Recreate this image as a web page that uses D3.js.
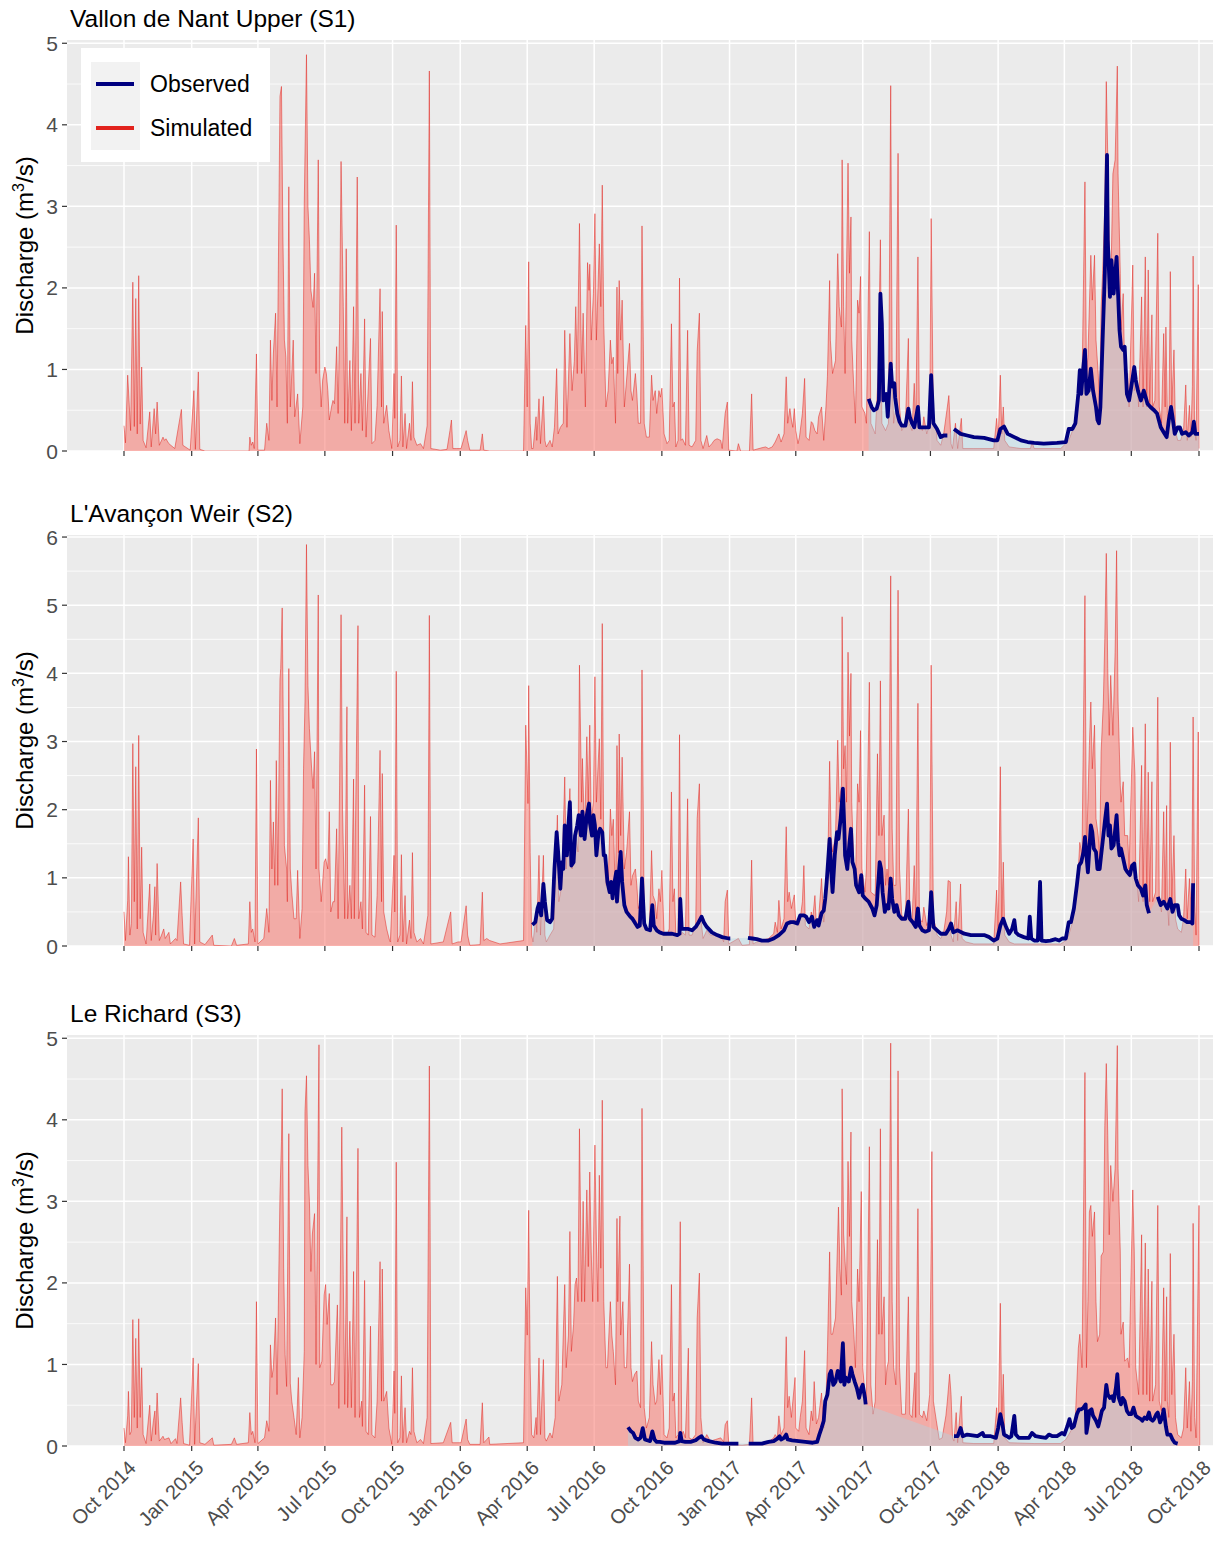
<!DOCTYPE html>
<html><head><meta charset="utf-8">
<script src="https://cdn.jsdelivr.net/npm/d3@7"></script>
<style>
body{margin:0;background:#fff}
svg{display:block}
text{font-family:"Liberation Sans",Arial,Helvetica,sans-serif}
</style>
</head><body>
<svg id="chart" width="1215" height="1543"></svg>
<script>
// Daily discharge (m3/s), stored as [days since 2014-10-01, value]
const stationTitles = ["Vallon de Nant Upper (S1)", "L'Avançon Weir (S2)", "Le Richard (S3)"];
const yTickValues = [[0,1,2,3,4,5],[0,1,2,3,4,5,6],[0,1,2,3,4,5]];
const yLimits = [5.04, 6.03, 5.04];
const legendLabels = ["Observed", "Simulated"];
const xTickFormat = "%b %Y";

const simS1 = [[0,0.31],[2,0.1],[5,0.93],[9,0.25],[12,2.07],[14,0.3],[16,1.87],[18,0.21],[20,2.15],[22,0.33],[24,1.03],[26,0.13],[30,0.04],[35,0.48],[37,0.05],[41,0.52],[43,0.21],[45,0.6],[48,0.07],[53,0.17],[55,0.13],[57,0.15],[61,0.09],[69,0.03],[78,0.51],[80,0.07],[90,0.01],[95,0.74],[97,0.02],[101,0.97],[103,0.02],[110,0],[170,0],[171,0.17],[173,0.07],[175,0.11],[177,0.03],[180,1.19],[182,0.01],[191,0.01],[194,0.34],[197,0.13],[199,1.36],[201,0.62],[203,1.19],[206,1.69],[208,0.54],[212,4.35],[214,4.47],[216,2.6],[218,1.36],[220,1.15],[222,0.34],[224,3.24],[226,0.54],[230,1.36],[232,0.42],[236,0.7],[239,0.09],[243,0.54],[245,3.04],[248,4.86],[250,3.0],[252,2.59],[254,1.97],[257,1.76],[259,2.18],[261,0.95],[264,3.57],[266,0.95],[268,0.54],[270,0.87],[273,1.03],[275,0.95],[277,0.74],[279,0.38],[282,0.54],[284,0.62],[286,0.58],[289,1.28],[291,0.46],[293,1.56],[295,3.55],[298,1.77],[300,0.34],[302,2.48],[304,0.34],[307,1.11],[309,0.25],[312,1.77],[314,0.34],[317,3.36],[319,0.34],[322,0.95],[324,0.25],[327,1.62],[329,0.17],[335,1.38],[337,0.09],[341,0.13],[344,0.56],[348,1.99],[350,0.54],[351,1.71],[353,0.34],[357,0.56],[360,0.25],[364,0.03],
[367,0.95],[368,0.4],[370,2.77],[372,0.05],[375,0.13],[377,0.92],[379,0.05],[382,0.46],[384,0.03],[388,0.34],[390,0.13],[392,0.85],[394,0.17],[398,0.07],[403,0.09],[407,0.03],[412,0.31],[415,4.66],[417,0.03],[430,0.01],[439,0.02],[443,0.25],[445,0.38],[447,0.03],[452,0.03],[458,0.03],[465,0.25],[467,0.13],[470,0.01],[484,0.01],[487,0.21],[489,0.01],[497,0],[543,0],[546,1.54],[548,0.54],[550,2.32],[552,0.34],[554,0.03],[556,0.03],[560,0.42],[561,0.13],[564,0.64],[566,0.09],[570,0.67],[572,0.13],[574,0.05],[579,0.13],[582,0.05],[585,0.29],[588,1.01],[590,0.21],[593,0.29],[597,0.34],[599,1.48],[602,0.29],[606,1.44],[609,0.74],[612,1.1],[614,1.77],[616,0.95],[619,2.79],[622,0.95],[624,1.69],[627,0.54],[630,2.31],[632,1.97],[633,2.29],[635,1.36],[638,1.93],[640,2.91],[642,1.36],[646,2.54],[648,1.77],[650,3.26],[652,1.56],[655,0.54],[658,0.74],[661,1.36],[663,1.07],[665,1.15],[668,0.34],[670,2.01],[671,0.95],[673,2.09],[675,1.36],[677,1.85],[680,0.54],[683,0.87],[687,1.32],[689,0.74],[691,0.62],[695,0.95],[697,0.7],[699,0.34],[702,0.34],[704,2.76],[707,0.34],[710,0.17],[714,0.17],[717,0.93],[719,0.62],[722,0.74],[724,0.46],[727,0.74],[729,0.66],
[731,0.77],[734,0.21],[738,0.09],[741,0.13],[744,1.56],[746,0.54],[748,0.6],[750,0.05],[753,0.13],[755,2.12],[757,0.13],[759,0.15],[763,0.07],[766,1.48],[768,0.07],[772,0.05],[777,0.13],[779,1.22],[782,1.69],[784,0.13],[787,0.03],[792,0.19],[795,0.05],[799,0.09],[802,0.13],[806,0.15],[811,0.13],[813,0.03],[817,0.46],[820,0.6],[822,0.01],[833,0],[835,0.09],[838,0],[850,0],[853,0.7],[855,0.01],[863,0.03],[867,0.04],[872,0.05],[876,0.03],[881,0.05],[885,0.11],[890,0.21],[893,0.11],[897,0.21],[900,0.91],[902,0.34],[905,0.52],[907,0.38],[909,0.29],[911,0.52],[913,0.25],[916,0.09],[918,0.17],[922,0.46],[925,0.89],[927,0.17],[931,0.13],[934,0.36],[936,0.34],[939,0.25],[942,0.21],[944,0.42],[948,0.54],[951,0.13],[954,0.54],[956,0.91],[959,2.09],[960,1.36],[963,0.95],[967,1.11],[970,2.42],[972,1.77],[975,1.52],[976,3.57],[978,1.77],[980,0.95],[984,3.53],[986,2.18],[988,2.87],[989,1.36],[992,0.74],[994,0.34],[997,1.85],[999,1.69],[1001,2.14],[1003,0.54],[1007,0.46],[1009,0.34],[1013,2.69],[1015,0.34],[1021,0.21],[1025,0.95],[1028,2.59],[1030,0.34],[1035,0.25],[1039,0.34],[1042,4.48],[1044,0.95],[1046,0.34],[1049,0.54],[1052,3.65],[1054,0.54],[1057,0.25],[1062,0.34],[1066,1.38],[1067,0.34],[1071,0.25],[1074,0.83],[1076,0.29],[1079,2.38],[1081,0.34],[1085,0.25],[1087,0.42],[1091,0.21],[1095,0.34],[1097,2.85],[1100,0.34],[1104,0.25],
[1105,0.13],[1110,0.07],[1114,0.21],[1119,0.54],[1121,0.68],[1124,0.09],[1126,0.03],[1130,0.34],[1133,0.03],[1138,0.4],[1140,0.03],[1155,0.03],[1182,0.03],[1186,0.4],[1188,0.13],[1191,0.93],[1193,0.21],[1195,0.54],[1197,0.13],[1203,0.05],[1219,0.03],[1232,0.03],[1234,0.11],[1237,0.03],[1273,0.03],[1280,0.09],[1284,0.13],[1289,0.25],[1293,0.34],[1297,0.74],[1300,0.95],[1302,0.79],[1306,3.3],[1308,0.95],[1310,1.15],[1314,2.4],[1316,1.85],[1319,2.4],[1321,1.36],[1324,0.95],[1326,0.54],[1328,1.77],[1330,2.18],[1333,3.0],[1335,4.53],[1337,3.61],[1339,2.59],[1341,1.97],[1344,3.4],[1347,3.57],[1350,4.72],[1351,3.4],[1354,2.18],[1355,1.48],[1358,1.93],[1360,0.95],[1364,0.95],[1366,0.54],[1371,2.28],[1373,0.74],[1376,0.95],[1379,0.54],[1383,1.89],[1385,0.54],[1388,2.38],[1390,0.54],[1392,2.22],[1394,0.54],[1397,1.67],[1398,0.54],[1401,0.62],[1405,2.67],[1407,0.54],[1410,0.34],[1413,1.44],[1415,0.54],[1416,1.52],[1418,0.46],[1420,0.21],[1422,2.2],[1424,0.54],[1427,1.24],[1429,0.25],[1432,0.13],[1436,0.13],[1440,0.25],[1443,0.81],[1445,0.13],[1448,0.56],[1450,0.17],[1452,0.79],[1453,2.39],[1455,0.25],[1457,0.13],[1460,2.04],[1461,0.03]];

const obsS1 = [[1012,0.64],[1016,0.54],[1019,0.5],[1023,0.52],[1026,0.62],[1028,1.93],[1030,1.56],[1032,0.62],[1036,0.7],[1038,0.42],[1042,1.07],[1044,0.79],[1047,0.83],[1048,0.66],[1051,0.46],[1054,0.36],[1057,0.31],[1062,0.31],[1066,0.52],[1068,0.42],[1071,0.34],[1074,0.29],[1079,0.54],[1081,0.29],[1089,0.29],[1094,0.29],[1097,0.93],[1100,0.34],[1105,0.27],[1110,0.17],[1114,0.19],[1119,0.19],[1122,null],[1128,0.27],[1137,0.21],[1146,0.19],[1155,0.17],[1169,0.16],[1182,0.13],[1187,0.13],[1191,0.27],[1196,0.3],[1201,0.21],[1210,0.17],[1219,0.13],[1228,0.11],[1237,0.1],[1250,0.09],[1268,0.1],[1280,0.11],[1284,0.27],[1289,0.27],[1293,0.34],[1297,0.7],[1299,0.99],[1301,0.7],[1303,0.95],[1306,1.24],[1308,0.7],[1311,0.74],[1314,1.01],[1317,0.74],[1321,0.54],[1323,0.38],[1325,0.34],[1327,0.54],[1330,1.36],[1333,2.18],[1336,3.63],[1337,2.59],[1340,1.89],[1342,2.34],[1345,1.93],[1349,2.38],[1351,1.93],[1353,1.48],[1355,1.28],[1358,1.24],[1360,1.28],[1363,0.7],[1366,0.62],[1369,0.79],[1373,1.03],[1375,0.87],[1378,0.74],[1382,0.62],[1386,0.74],[1391,0.58],[1395,0.54],[1400,0.5],[1404,0.46],[1409,0.29],[1413,0.23],[1417,0.17],[1420,0.38],[1423,0.54],[1425,0.42],[1428,0.21],[1432,0.29],[1435,0.29],[1438,0.21],[1443,0.23],[1447,0.19],[1452,0.23],[1454,0.36],[1456,0.21],[1461,0.21]];

const simS2 = [[0,0.5],[2,0.08],[5,0.67],[6,1.31],[8,0.16],[10,0.33],[12,2.97],[14,0.65],[16,2.63],[18,0.25],[20,3.09],[22,0.4],[24,1.45],[26,0.2],[30,0.03],[35,0.91],[37,0.08],[40,0.45],[42,0.87],[43,0.16],[45,1.21],[48,0.08],[51,0.16],[54,0.25],[56,0.11],[61,0.2],[63,0.03],[70,0.11],[72,0.08],[77,0.94],[79,0.45],[81,0.03],[89,0.01],[94,1.57],[96,0.03],[101,1.88],[103,0.06],[110,0.02],[120,0.16],[122,0.01],[146,0],[150,0.11],[153,0.01],[169,0.03],[171,0.65],[173,0.2],[175,0.25],[178,0.06],[180,2.89],[182,0.03],[190,0.11],[194,0.55],[197,0.2],[199,2.43],[201,1.13],[203,1.82],[205,0.89],[207,2.72],[209,0.89],[212,3.92],[213,4.07],[215,4.96],[217,2.6],[218,1.47],[221,1.13],[222,0.65],[224,4.07],[226,1.13],[228,0.79],[231,0.4],[234,0.4],[236,1.11],[239,0.11],[242,0.55],[244,2.6],[246,3.58],[248,5.89],[250,3.82],[252,3.19],[255,2.6],[257,2.31],[259,2.85],[261,1.13],[264,5.15],[265,1.13],[268,0.65],[272,1.23],[274,1.28],[277,1.13],[279,1.97],[281,0.5],[284,0.65],[286,0.65],[289,1.72],[291,0.4],[293,2.36],[295,4.86],[297,2.0],[300,0.4],[303,3.51],[304,0.4],[307,0.89],[309,0.4],[312,2.45],[313,0.4],[318,4.7],[319,0.4],[322,0.65],[324,0.25],[327,2.36],[329,0.2],[332,0.16],[335,1.9],[337,0.16],[341,0.13],[344,0.74],[348,2.87],[350,0.65],[351,2.53],[353,0.5],[357,0.25],[361,0.08],
[362,0.06],[367,1.33],[368,0.5],[370,4.03],[372,0.06],[375,0.16],[377,1.34],[379,0.06],[382,0.74],[384,0.03],[388,0.38],[390,0.11],[392,1.37],[394,0.2],[398,0.06],[403,0.11],[407,0.03],[413,0.45],[415,4.85],[417,0.03],[434,0.06],[444,0.5],[446,0.03],[454,0.06],[458,0.06],[465,0.59],[467,0.16],[470,0.01],[484,0.02],[487,0.79],[489,0.08],[493,0.11],[497,0.08],[511,0.03],[543,0.08],[546,3.24],[549,2.09],[550,3.82],[552,1.37],[554,0.16],[556,0.06],[560,0.45],[561,0.2],[564,1.33],[566,0.16],[570,1.33],[572,0.16],[574,0.06],[579,0.16],[584,0.25],[589,1.92],[591,0.65],[595,0.89],[599,2.48],[601,1.13],[603,1.62],[606,2.31],[609,1.13],[612,1.62],[614,1.62],[617,1.38],[619,4.12],[622,2.11],[623,2.75],[626,1.62],[629,3.07],[631,2.11],[633,3.24],[635,1.86],[638,2.11],[640,3.95],[642,2.11],[646,3.04],[648,1.86],[650,4.73],[652,1.37],[655,0.89],[658,0.89],[661,2.01],[663,1.62],[665,1.86],[668,0.65],[670,2.94],[672,1.37],[673,3.11],[675,1.62],[677,2.77],[680,1.13],[683,1.37],[687,1.97],[689,0.89],[691,1.03],[695,1.13],[697,0.89],[699,0.55],[702,0.65],[704,4.05],[707,0.4],[710,0.25],[714,0.25],[717,1.4],[719,0.74],[722,0.65],[724,0.4],[727,0.84],[729,0.65],
[731,1.11],[734,0.16],[738,0.16],[741,0.25],[744,2.26],[746,0.65],[748,0.84],[750,0.16],[753,0.16],[755,3.1],[757,0.16],[759,0.2],[763,0.16],[766,2.16],[768,0.16],[772,0.16],[777,0.3],[779,1.87],[782,2.38],[784,0.4],[787,0.11],[792,0.23],[797,0.16],[811,0.16],[815,0.06],[817,0.65],[820,0.82],[822,0.03],[835,0.11],[840,0.01],[850,0.02],[853,1.26],[855,0.03],[860,0.06],[867,0.08],[876,0.11],[883,0.18],[885,0.35],[888,0.2],[890,0.67],[893,0.25],[897,0.4],[900,1.75],[902,0.65],[904,0.79],[907,0.55],[909,0.65],[911,0.75],[913,0.35],[917,0.3],[919,0.4],[922,0.65],[924,1.18],[926,0.3],[931,0.25],[934,0.5],[936,0.4],[939,0.74],[941,0.3],[944,0.4],[948,0.99],[951,0.35],[954,0.65],[956,0.89],[959,2.71],[961,1.62],[963,1.38],[967,1.62],[970,3.02],[972,2.11],[975,2.36],[976,4.83],[978,2.6],[980,2.94],[982,2.11],[984,4.31],[986,3.08],[988,4.0],[989,2.11],[992,1.13],[994,0.89],[997,2.38],[999,2.11],[1001,3.16],[1003,1.13],[1007,0.79],[1009,1.13],[1013,3.87],[1015,0.79],[1021,0.74],[1024,2.82],[1026,1.62],[1028,3.89],[1030,1.62],[1033,1.92],[1035,0.89],[1037,1.13],[1039,0.89],[1042,5.43],[1044,1.72],[1046,0.89],[1049,0.89],[1052,5.22],[1054,1.13],[1057,0.45],[1062,0.4],[1066,2.01],[1068,0.5],[1071,0.35],[1074,1.18],[1076,0.4],[1079,3.56],[1081,0.4],[1085,0.35],[1087,0.57],[1091,0.3],[1095,0.4],[1097,4.12],[1100,0.4],[1104,0.25],
[1105,0.16],[1110,0.11],[1114,0.2],[1118,0.5],[1120,0.96],[1123,0.94],[1124,0.16],[1127,0.06],[1131,0.65],[1133,0.08],[1137,0.91],[1139,0.11],[1144,0.06],[1155,0.03],[1182,0.03],[1186,0.82],[1188,0.16],[1191,2.63],[1193,0.4],[1195,1.23],[1197,0.16],[1203,0.06],[1210,0.03],[1237,0.03],[1273,0.03],[1280,0.08],[1284,0.16],[1289,0.35],[1293,0.65],[1297,1.13],[1299,1.52],[1302,1.33],[1306,5.14],[1308,1.38],[1310,2.11],[1312,2.94],[1314,3.58],[1316,2.6],[1319,3.24],[1321,1.87],[1324,1.62],[1326,1.28],[1328,2.85],[1331,3.58],[1333,4.51],[1335,5.76],[1337,4.07],[1339,3.09],[1341,3.97],[1344,3.09],[1347,4.31],[1349,5.8],[1351,3.58],[1354,2.36],[1355,2.11],[1358,2.41],[1360,1.62],[1364,1.62],[1366,1.13],[1371,3.21],[1374,2.5],[1375,1.13],[1379,0.65],[1383,2.65],[1385,0.65],[1388,3.26],[1390,0.65],[1392,2.55],[1394,0.65],[1397,2.41],[1398,0.65],[1402,0.79],[1405,3.65],[1407,0.65],[1410,0.5],[1413,1.97],[1415,0.65],[1417,2.06],[1418,0.65],[1420,0.3],[1422,2.99],[1424,0.65],[1427,1.62],[1429,0.4],[1432,0.25],[1437,0.2],[1440,0.4],[1443,1.13],[1445,0.4],[1448,0.99],[1451,0.4],[1453,3.36],[1455,0.65],[1457,0.16],[1460,3.14],[1461,0.01]];

const obsS2 = [[555,0.31],[559,0.35],[562,0.55],[564,0.62],[567,0.45],[570,0.91],[572,0.65],[575,0.38],[579,0.35],[582,0.4],[585,1.13],[588,1.67],[590,1.38],[593,0.84],[595,1.23],[597,1.13],[599,1.77],[602,1.33],[604,1.77],[606,2.11],[608,1.18],[611,1.23],[613,1.62],[616,1.77],[618,1.92],[621,1.62],[623,1.97],[626,1.57],[629,1.92],[632,2.09],[633,1.82],[636,1.62],[638,1.92],[640,1.77],[642,1.33],[645,1.67],[647,1.72],[650,1.67],[652,1.33],[654,1.33],[657,0.94],[660,0.79],[662,0.94],[664,0.7],[666,0.89],[669,1.09],[670,0.65],[673,1.13],[675,1.38],[677,0.94],[680,0.6],[683,0.5],[688,0.43],[691,0.4],[695,0.33],[698,0.28],[701,0.3],[704,0.99],[707,0.33],[710,0.25],[715,0.23],[718,0.6],[720,0.3],[724,0.23],[728,0.2],[733,0.18],[736,0.18],[740,0.18],[745,0.18],[752,0.16],[755,0.18],[756,0.69],[758,0.25],[763,0.25],[767,0.25],[772,0.23],[777,0.28],[781,0.35],[785,0.43],[788,0.35],[792,0.28],[799,0.2],[806,0.16],[813,0.13],[822,0.11],[824,0.11],[836,null],[848,0.12],[854,0.11],[860,0.1],[867,0.08],[876,0.08],[883,0.11],[890,0.16],[897,0.23],[901,0.33],[906,0.35],[910,0.35],[915,0.33],[919,0.45],[924,0.45],[927,0.43],[931,0.35],[935,0.43],[938,0.28],[942,0.38],[944,0.3],[948,0.48],[951,0.52],[953,0.69],[955,0.94],[959,1.57],[961,1.13],[963,0.79],[966,1.33],[969,1.67],[971,1.57],[974,1.87],[977,2.31],[979,1.72],[980,1.33],[983,1.13],[986,1.52],[988,1.72],[990,1.23],[993,1.13],[995,0.89],[999,0.79],[1002,1.04],[1004,0.74],[1008,0.69],[1012,0.65],[1017,0.55],[1020,0.45],[1023,0.6],[1027,1.23],[1029,1.13],[1031,0.79],[1034,0.5],[1037,0.6],[1039,0.55],[1042,0.99],[1044,0.69],[1047,0.5],[1050,0.6],[1053,0.45],[1057,0.4],[1062,0.4],[1066,0.65],[1068,0.4],[1072,0.35],[1076,0.28],[1079,0.55],[1081,0.3],[1085,0.23],[1089,0.21],[1094,0.23],[1097,0.79],[1100,0.28],[1105,0.23],[1110,0.18],[1117,0.18],[1121,0.25],[1124,0.33],[1127,0.2],[1133,0.23],[1142,0.18],[1151,0.16],[1160,0.16],[1169,0.16],[1176,0.13],[1182,0.08],[1187,0.11],[1191,0.3],[1195,0.4],[1198,0.3],[1203,0.18],[1207,0.25],[1210,0.38],[1212,0.2],[1216,0.16],[1223,0.13],[1229,0.11],[1231,0.43],[1233,0.11],[1237,0.08],[1242,0.08],[1245,0.94],[1247,0.08],[1253,0.07],[1259,0.08],[1266,0.1],[1271,0.08],[1275,0.11],[1280,0.11],[1284,0.35],[1287,0.35],[1291,0.55],[1295,0.89],[1298,1.18],[1301,1.23],[1304,1.38],[1306,1.6],[1308,1.33],[1310,1.08],[1312,1.43],[1314,1.77],[1316,1.67],[1318,1.43],[1321,1.38],[1323,1.13],[1326,1.13],[1328,1.33],[1331,1.62],[1333,1.82],[1336,2.09],[1338,1.62],[1340,1.77],[1342,1.43],[1345,1.48],[1349,1.92],[1351,1.52],[1353,1.33],[1355,1.43],[1358,1.28],[1361,1.13],[1364,1.08],[1367,1.04],[1370,1.18],[1373,1.21],[1375,0.99],[1378,0.89],[1382,0.84],[1385,0.74],[1388,0.89],[1390,0.6],[1393,0.48],[1398,null],[1405,0.72],[1409,0.6],[1413,0.65],[1418,0.55],[1422,0.69],[1425,0.5],[1428,0.6],[1432,0.6],[1434,0.45],[1437,0.4],[1441,0.38],[1445,0.35],[1450,0.35],[1452,0.33],[1453,0.92]];

const simS3 = [[0,0.22],[2,0.04],[5,0.37],[6,0.67],[8,0.14],[10,0.18],[12,1.55],[14,0.35],[16,1.32],[18,0.22],[20,1.56],[22,0.35],[24,0.96],[26,0.14],[30,0.03],[35,0.5],[37,0.06],[40,0.31],[42,0.43],[43,0.14],[45,0.65],[48,0.06],[53,0.12],[55,0.08],[61,0.1],[64,0.03],[70,0.09],[72,0.03],[77,0.59],[79,0.29],[81,0.03],[89,0.01],[94,1.08],[96,0.02],[101,1.01],[103,0.04],[110,0.02],[120,0.1],[122,0.01],[146,0.02],[150,0.1],[153,0.02],[169,0.04],[171,0.41],[173,0.14],[175,0.18],[178,0.04],[180,1.77],[182,0.03],[191,0.1],[194,0.31],[197,0.18],[199,1.24],[201,0.84],[203,0.96],[206,1.57],[208,0.63],[212,3.08],[214,3.73],[215,4.38],[217,2.18],[219,1.12],[221,0.73],[224,3.83],[226,0.77],[228,0.55],[231,0.35],[234,0.14],[237,0.84],[239,0.1],[242,0.35],[245,1.16],[246,4.1],[248,4.54],[250,3.44],[252,3.0],[254,2.14],[256,2.6],[259,2.85],[261,1.0],[265,4.92],[266,0.96],[269,1.04],[272,1.85],[274,1.98],[276,1.49],[279,1.87],[281,0.75],[284,0.75],[286,0.79],[290,1.73],[292,0.46],[294,2.06],[296,3.91],[298,2.1],[300,0.51],[303,2.81],[304,0.47],[307,1.53],[309,0.47],[312,2.14],[314,0.35],[318,3.65],[320,0.35],[323,0.55],[324,0.24],[327,2.03],[329,0.18],[332,0.14],[335,1.47],[337,0.14],[341,0.1],[344,0.55],[348,2.26],[350,0.55],[351,2.17],[353,0.55],[357,0.67],[360,0.22],[364,0.02],
[367,0.92],[368,0.4],[370,3.48],[372,0.04],[375,0.1],[377,0.86],[379,0.04],[382,0.47],[384,0.04],[388,0.18],[390,0.14],[392,0.96],[394,0.18],[398,0.04],[403,0.08],[407,0.03],[412,0.35],[415,4.66],[416,2.81],[417,0.03],[434,0.04],[444,0.29],[446,0.04],[458,0.04],[465,0.33],[467,0.08],[470,0.02],[484,0.02],[487,0.53],[489,0.04],[493,0.08],[496,0.11],[497,0.02],[543,0.04],[546,1.94],[548,1.36],[550,2.89],[552,0.96],[554,0.14],[557,0.1],[560,0.35],[561,0.14],[564,1.08],[566,0.14],[570,1.06],[572,0.1],[574,0.06],[579,0.16],[582,0.1],[586,0.35],[589,2.08],[591,0.55],[595,0.75],[599,1.98],[601,0.96],[604,1.36],[606,2.63],[608,1.16],[611,1.49],[613,1.98],[615,2.06],[617,1.77],[619,3.89],[622,1.77],[624,3.0],[626,1.77],[629,3.14],[631,2.2],[633,3.36],[635,2.38],[637,1.77],[640,3.69],[642,2.51],[644,1.77],[646,3.32],[648,2.18],[650,4.24],[652,1.77],[655,0.96],[657,0.96],[661,1.77],[663,1.36],[665,1.16],[668,0.75],[670,2.79],[671,1.77],[674,2.82],[675,1.36],[678,1.77],[680,0.96],[683,0.96],[687,2.23],[689,0.96],[691,0.79],[694,0.88],[697,0.92],[699,0.55],[702,0.47],[704,4.14],[707,0.47],[710,0.22],[714,0.35],[717,1.28],[719,0.75],[722,0.51],[724,0.55],[727,1.06],[729,0.63],
[731,1.12],[734,0.14],[738,0.1],[741,0.22],[744,1.98],[746,0.55],[748,0.65],[750,0.1],[753,0.14],[756,2.75],[758,0.14],[760,0.18],[763,0.1],[767,1.2],[768,0.1],[772,0.08],[777,0.14],[779,1.57],[782,2.12],[784,0.35],[787,0.04],[792,0.14],[797,0.06],[804,0.08],[811,0.1],[815,0.05],[817,0.26],[820,0.31],[822,0.02],[840,0.01],[850,0.02],[853,0.59],[855,0.02],[860,0.03],[867,0.04],[876,0.05],[883,0.1],[885,0.14],[888,0.1],[890,0.37],[893,0.14],[897,0.22],[900,1.34],[902,0.47],[904,0.61],[907,0.35],[909,0.55],[912,0.84],[913,0.22],[917,0.18],[919,0.35],[922,0.55],[925,1.17],[927,0.22],[931,0.14],[934,0.43],[936,0.31],[938,0.79],[941,0.27],[944,0.35],[948,0.65],[951,0.22],[954,0.55],[956,1.16],[959,2.38],[961,1.37],[963,1.37],[967,1.57],[971,2.93],[973,2.18],[975,1.85],[976,4.38],[978,2.6],[980,2.26],[982,1.98],[984,3.49],[986,2.57],[988,3.85],[989,1.77],[992,1.37],[994,0.96],[997,2.17],[999,1.77],[1002,3.12],[1004,0.96],[1007,0.63],[1009,0.55],[1013,3.67],[1015,0.75],[1018,0.39],[1021,0.55],[1024,2.53],[1026,1.37],[1028,3.89],[1030,1.37],[1033,1.83],[1035,0.75],[1037,0.96],[1039,1.04],[1042,4.94],[1044,1.77],[1046,0.96],[1049,0.75],[1052,4.6],[1054,0.96],[1057,0.39],[1062,0.39],[1066,1.83],[1068,0.39],[1071,0.35],[1075,0.9],[1076,0.35],[1079,2.91],[1081,0.39],[1085,0.35],[1087,0.43],[1091,0.31],[1095,0.63],[1098,3.61],[1100,0.55],[1104,0.31],
[1108,0.08],[1112,0.1],[1117,0.37],[1119,0.55],[1122,0.88],[1124,0.63],[1126,0.1],[1128,0.06],[1131,0.41],[1133,0.04],[1138,0.61],[1140,0.04],[1155,0.03],[1182,0.03],[1186,0.47],[1188,0.18],[1191,1.75],[1193,0.31],[1195,0.88],[1197,0.1],[1203,0.04],[1237,0.03],[1273,0.03],[1280,0.08],[1284,0.14],[1289,0.22],[1293,0.35],[1297,1.2],[1299,1.37],[1302,0.96],[1306,4.58],[1308,0.96],[1310,1.77],[1312,2.87],[1314,2.95],[1316,2.57],[1319,2.87],[1321,1.77],[1323,1.28],[1326,1.37],[1328,2.33],[1331,2.38],[1333,3.93],[1335,4.69],[1337,3.81],[1339,2.59],[1341,3.44],[1344,3.0],[1347,3.4],[1350,4.91],[1351,3.4],[1354,2.38],[1355,1.37],[1358,1.52],[1360,1.04],[1364,1.08],[1366,0.96],[1371,3.14],[1373,2.38],[1375,0.96],[1379,0.63],[1383,2.59],[1385,0.63],[1388,2.49],[1390,0.63],[1392,2.17],[1394,0.55],[1397,2.02],[1398,0.55],[1402,0.75],[1405,2.95],[1407,0.55],[1410,0.43],[1413,1.94],[1415,0.55],[1417,1.83],[1418,0.55],[1420,0.35],[1422,2.36],[1424,0.63],[1427,1.37],[1429,0.35],[1432,0.14],[1437,0.1],[1440,0.22],[1443,0.96],[1445,0.22],[1448,0.79],[1450,0.18],[1452,0.79],[1453,2.73],[1455,0.35],[1457,0.1],[1461,2.95],[1462,0.01]];

const obsS3 = [[685,0.23],[689,0.18],[692,0.16],[695,0.1],[699,0.08],[702,0.1],[705,0.22],[708,0.08],[711,0.07],[715,0.06],[718,0.18],[721,0.08],[724,0.05],[728,0.05],[734,0.04],[740,0.04],[749,0.04],[755,0.06],[756,0.16],[758,0.06],[763,0.05],[770,0.05],[777,0.07],[781,0.1],[785,0.12],[788,0.08],[795,0.06],[804,0.04],[813,0.03],[822,0.03],[835,0.03],[842,null],[849,0.03],[858,0.03],[867,0.03],[876,0.05],[883,0.06],[888,0.09],[891,0.12],[893,0.08],[897,0.1],[900,0.14],[902,0.08],[908,0.07],[917,0.06],[926,0.05],[936,0.04],[942,0.05],[945,0.14],[948,0.22],[951,0.31],[953,0.55],[956,0.63],[959,0.88],[961,0.92],[964,0.75],[967,0.79],[970,0.92],[974,0.79],[977,1.26],[979,0.75],[981,0.84],[985,0.79],[988,0.96],[990,0.88],[993,0.79],[996,0.71],[999,0.59],[1002,0.71],[1004,0.75],[1007,0.59],[1008,0.51],[1060,null],[1128,0.12],[1133,0.12],[1137,0.22],[1140,0.12],[1146,0.14],[1153,0.13],[1160,0.12],[1167,0.16],[1169,0.12],[1178,0.12],[1185,0.1],[1188,0.22],[1191,0.39],[1194,0.26],[1196,0.14],[1200,0.12],[1203,0.1],[1206,0.12],[1210,0.37],[1212,0.14],[1216,0.1],[1223,0.1],[1230,0.1],[1234,0.16],[1239,0.12],[1246,0.11],[1253,0.1],[1257,0.14],[1262,0.12],[1268,0.12],[1275,0.16],[1278,0.14],[1282,0.24],[1285,0.33],[1288,0.22],[1291,0.24],[1295,0.39],[1298,0.45],[1301,0.45],[1304,0.47],[1307,0.51],[1308,0.16],[1310,0.27],[1312,0.43],[1315,0.45],[1317,0.37],[1321,0.31],[1324,0.24],[1326,0.31],[1329,0.43],[1332,0.47],[1335,0.75],[1337,0.63],[1340,0.59],[1343,0.61],[1345,0.55],[1348,0.71],[1350,0.88],[1352,0.59],[1355,0.51],[1357,0.59],[1360,0.55],[1363,0.43],[1366,0.39],[1369,0.39],[1372,0.47],[1375,0.37],[1378,0.35],[1382,0.33],[1384,0.31],[1387,0.35],[1390,0.33],[1393,0.41],[1395,0.33],[1398,0.31],[1400,0.33],[1403,0.39],[1405,0.41],[1408,0.29],[1411,0.35],[1413,0.45],[1416,0.24],[1418,0.14],[1422,0.14],[1425,0.08],[1428,0.04],[1432,0.03]];

const simSeries = [simS1, simS2, simS3];
const obsSeries = [obsS1, obsS2, obsS3];

// ---- drawing ----
const START = Date.UTC(2014, 9, 1);
const toDate = d => new Date(START + d * 864e5);

const svg = d3.select("#chart");
const panelLeft = 67, panelRight = 1213;
const panelTops = [40, 535, 1035];
const panelHeight = 411;

const x = d3.scaleUtc()
  .domain([new Date(Date.UTC(2014, 9, 1)), new Date(Date.UTC(2018, 9, 1))])
  .range([124, 1199]);
const xTicks = d3.utcMonth.every(3).range(new Date(Date.UTC(2014, 9, 1)), new Date(Date.UTC(2018, 9, 2)));

const colSimLine = "#e2231d";
const colSimFill = "#f8766d";
const colObsLine = "#000080";
const colObsFill = "#add8e6";

stationTitles.forEach((title, i) => {
  const top = panelTops[i];
  const bottom = top + panelHeight;
  const y = d3.scaleLinear().domain([0, yLimits[i]]).range([bottom, top]);
  const g = svg.append("g");

  const clipId = "clip" + i;
  svg.append("clipPath").attr("id", clipId).append("rect")
    .attr("x", panelLeft).attr("y", top).attr("width", panelRight - panelLeft).attr("height", panelHeight);

  // panel background and grid
  g.append("rect").attr("x", panelLeft).attr("y", top)
    .attr("width", panelRight - panelLeft).attr("height", panelHeight).attr("fill", "#ebebeb");
  const minorY = d3.range(0.5, yLimits[i], 1);
  g.selectAll(".gy-minor").data(minorY).join("line")
    .attr("x1", panelLeft).attr("x2", panelRight)
    .attr("y1", d => y(d)).attr("y2", d => y(d))
    .attr("stroke", "#fff").attr("stroke-width", 0.8);
  g.selectAll(".gy").data(yTickValues[i]).join("line")
    .attr("x1", panelLeft).attr("x2", panelRight)
    .attr("y1", d => y(d)).attr("y2", d => y(d))
    .attr("stroke", "#fff").attr("stroke-width", 1.5);
  g.selectAll(".gx").data(xTicks).join("line")
    .attr("x1", d => x(d)).attr("x2", d => x(d))
    .attr("y1", top).attr("y2", bottom)
    .attr("stroke", "#fff").attr("stroke-width", 1.5);

  const plot = g.append("g").attr("clip-path", `url(#${clipId})`);

  // simulated discharge
  const sim = simSeries[i];
  plot.append("path").datum(sim)
    .attr("d", d3.area().x(d => x(toDate(d[0]))).y0(y(0)).y1(d => y(d[1])))
    .attr("fill", colSimFill).attr("fill-opacity", 0.55);
  plot.append("path").datum(sim)
    .attr("d", d3.line().x(d => x(toDate(d[0]))).y(d => y(d[1])))
    .attr("fill", "none").attr("stroke", colSimLine).attr("stroke-width", 0.6).attr("stroke-opacity", 0.85);

  // observed discharge
  const obs = obsSeries[i];
  const obsValid = obs.filter(d => d[1] != null);
  plot.append("path").datum(obsValid)
    .attr("d", d3.area().x(d => x(toDate(d[0]))).y0(y(0)).y1(d => y(d[1])))
    .attr("fill", colObsFill).attr("fill-opacity", 0.4);
  plot.append("path").datum(obs)
    .attr("d", d3.line().defined(d => d[1] != null).x(d => x(toDate(d[0]))).y(d => y(d[1])))
    .attr("fill", "none").attr("stroke", colObsLine).attr("stroke-width", 3.8)
    .attr("stroke-linejoin", "round").attr("stroke-linecap", "butt");

  // y axis
  const yAxis = g.append("g");
  yTickValues[i].forEach(v => {
    yAxis.append("line").attr("x1", panelLeft - 5).attr("x2", panelLeft)
      .attr("y1", y(v)).attr("y2", y(v)).attr("stroke", "#333").attr("stroke-width", 1.2);
    yAxis.append("text").attr("x", panelLeft - 9).attr("y", y(v))
      .attr("text-anchor", "end").attr("dominant-baseline", "central")
      .attr("font-size", 21).attr("fill", "#4d4d4d").text(v);
  });

  // x ticks
  g.selectAll(".tx").data(xTicks).join("line")
    .attr("x1", d => x(d)).attr("x2", d => x(d))
    .attr("y1", bottom).attr("y2", bottom + 5)
    .attr("stroke", "#333").attr("stroke-width", 1.2);

  // titles
  g.append("text").attr("x", 70).attr("y", top - 13)
    .attr("font-size", 24.5).attr("fill", "#000").text(title);
  const yt = g.append("text")
    .attr("transform", `translate(33,${(top + bottom) / 2}) rotate(-90)`)
    .attr("text-anchor", "middle").attr("font-size", 24).attr("fill", "#000");
  yt.append("tspan").text("Discharge (m");
  yt.append("tspan").attr("font-size", 16).attr("dy", -9).text("3");
  yt.append("tspan").attr("dy", 9).text("/s)");

  if (i === stationTitles.length - 1) {
    g.selectAll(".lx").data(xTicks).join("text")
      .attr("transform", d => `translate(${x(d) + 3},${bottom + 13}) rotate(-45)`)
      .attr("text-anchor", "end").attr("dominant-baseline", "hanging")
      .attr("font-size", 20).attr("fill", "#4d4d4d")
      .text(d => d3.utcFormat(xTickFormat)(d));
  }

  if (i === 0) {
    const lg = g.append("g");
    lg.append("rect").attr("x", 81).attr("y", 48).attr("width", 189).attr("height", 114).attr("fill", "#fff");
    const keyColors = [colObsLine, colSimLine];
    legendLabels.forEach((lab, k) => {
      const ky = 62 + k * 44;
      lg.append("rect").attr("x", 91).attr("y", ky).attr("width", 49).attr("height", 44).attr("fill", "#f2f2f2");
      lg.append("line").attr("x1", 96).attr("x2", 134).attr("y1", ky + 22).attr("y2", ky + 22)
        .attr("stroke", keyColors[k]).attr("stroke-width", 4);
      lg.append("text").attr("x", 150).attr("y", ky + 22).attr("dominant-baseline", "central")
        .attr("font-size", 23).attr("fill", "#000").text(lab);
    });
  }
});
</script>
</body></html>
